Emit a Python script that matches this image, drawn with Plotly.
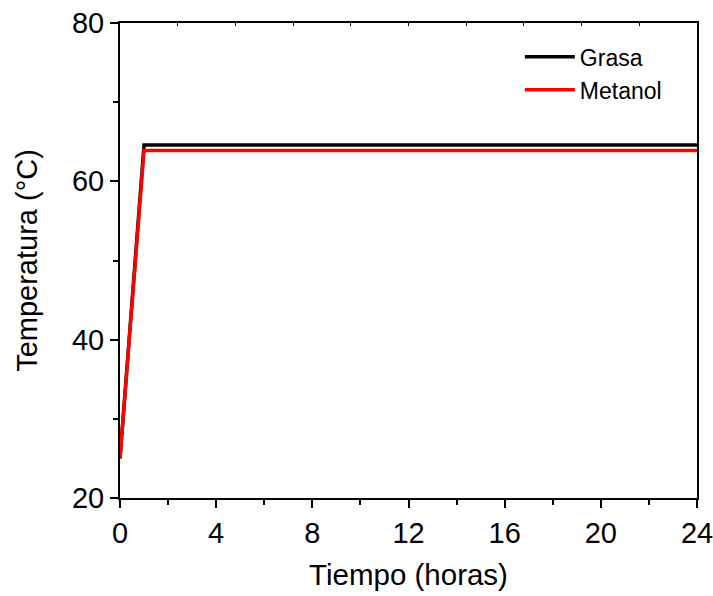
import plotly.graph_objects as go

# Temperature profile of the reaction (hours vs °C)
tiempo = [0, 1, 24]
grasa = [25, 64.6, 64.6]
metanol = [25, 63.9, 63.9]

x_ticks = [0, 4, 8, 12, 16, 20, 24]
y_ticks = [20, 40, 60, 80]

FONT = "Liberation Sans, Arial, sans-serif"

fig = go.Figure()
fig.add_trace(go.Scatter(x=tiempo, y=grasa, mode="lines", name="Grasa",
                         line=dict(color="black", width=3.5)))
fig.add_trace(go.Scatter(x=tiempo, y=metanol, mode="lines", name="Metanol",
                         line=dict(color="#ff0000", width=3.5)))

# invisible trace to carry the top axis with its inner ticks
fig.add_trace(go.Scatter(x=[0, 10], y=[20, 20], mode="lines", xaxis="x2",
                         line=dict(width=0), showlegend=False, hoverinfo="skip"))

axis_common = dict(showgrid=False, zeroline=False, showline=True,
                   linecolor="black", linewidth=2, automargin=False,
                   ticklabeloverflow="allow",
                   tickfont=dict(family=FONT, size=29, color="black"),
                   ticks="outside", tickwidth=2, ticklen=8, tickcolor="black")

fig.update_layout(
    width=713, height=596,
    margin=dict(l=120, r=16, t=23, b=98),
    plot_bgcolor="white", paper_bgcolor="white",
    font=dict(family=FONT, color="black"),
    xaxis=dict(range=[0, 24], tickvals=x_ticks, ticktext=[str(v) for v in x_ticks],
               minor=dict(tickvals=[2, 6, 10, 14, 18, 22], ticks="outside", ticklen=5,
                          tickwidth=2, tickcolor="black"),
               title=dict(text="Tiempo (horas)", font=dict(family=FONT, size=29.5),
                          standoff=17),
               **axis_common),
    yaxis=dict(range=[20, 80], tickvals=y_ticks, ticktext=[str(v) for v in y_ticks],
               minor=dict(tickvals=[30, 50, 70], ticks="outside", ticklen=5,
                          tickwidth=2, tickcolor="black"),
               title=dict(text="Temperatura (°C)", font=dict(family=FONT, size=29),
                          standoff=26),
               **axis_common),
    xaxis2=dict(overlaying="x", side="top", range=[0, 10], dtick=1,
                showgrid=False, zeroline=False, showline=True, linecolor="black",
                linewidth=2, ticks="inside", ticklen=3, tickwidth=1,
                tickcolor="black", showticklabels=False, automargin=False),
    yaxis2=dict(overlaying="y", side="right", range=[0, 1], showgrid=False,
                zeroline=False, showline=True, linecolor="black", linewidth=2,
                showticklabels=False, ticks="", automargin=False),
    legend=dict(x=0.693, y=0.974, xanchor="left", yanchor="top",
                bgcolor="rgba(0,0,0,0)", font=dict(family=FONT, size=23),
                tracegroupgap=0, itemwidth=50),
    showlegend=True,
)

# dummy trace so the right-hand frame line is drawn
fig.add_trace(go.Scatter(x=[0], y=[0], xaxis="x", yaxis="y2", mode="lines",
                         line=dict(width=0), showlegend=False, hoverinfo="skip"))

fig.write_html("out.html")
